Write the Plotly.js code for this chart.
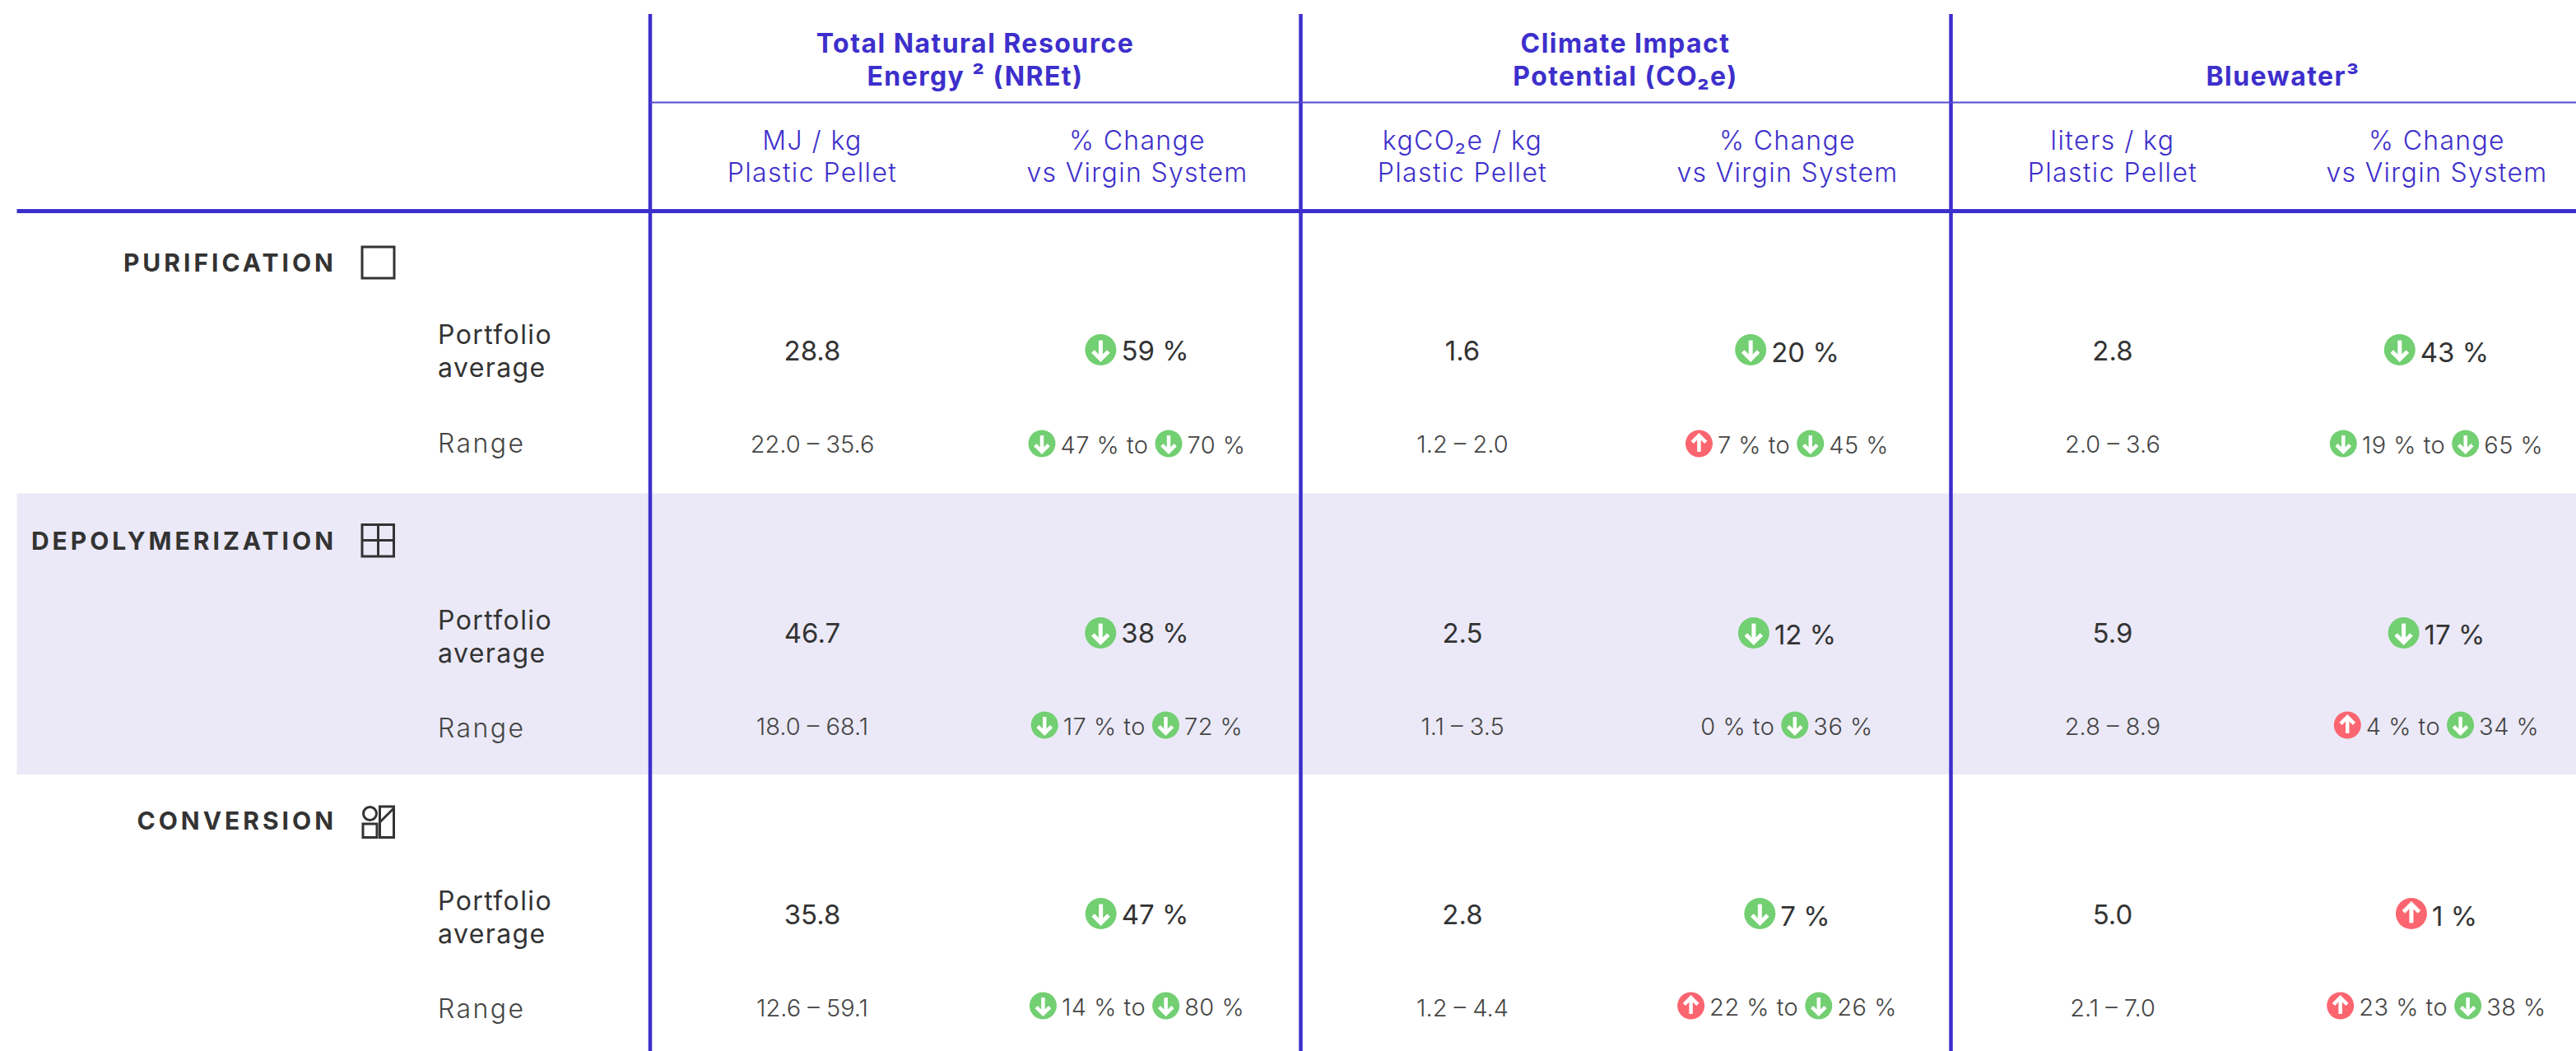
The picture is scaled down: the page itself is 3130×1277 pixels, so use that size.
<!DOCTYPE html>
<html><head><meta charset="utf-8">
<script src="https://cdn.plot.ly/plotly-3.0.1.min.js"></script>
<style>html,body{margin:0;padding:0;background:#fff;overflow:hidden}</style>
</head><body><div id="chart" style="width:3130px;height:1277px"></div>
<script>
// ---------- table content ----------
const groups = ["PURIFICATION", "DEPOLYMERIZATION", "CONVERSION"];
const rowAverageLabel = ["Portfolio", "average"];
const rowRangeLabel = "Range";
const metricTitles = [["Total Natural Resource", "Energy ² (NREt)"], ["Climate Impact", "Potential (CO₂e)"], ["Bluewater³"]];
const unitLabels = [["MJ / kg", "Plastic Pellet"], ["kgCO₂e / kg", "Plastic Pellet"], ["liters / kg", "Plastic Pellet"]];
const changeLabel = ["% Change", "vs Virgin System"];

const energyAvg = ["28.8", "46.7", "35.8"];
const energyRange = ["22.0 – 35.6", "18.0 – 68.1", "12.6 – 59.1"];
const energyChange = [-59, -38, -47];
const energyLow = [-47, -17, -14];
const energyHigh = [-70, -72, -80];

const climateAvg = ["1.6", "2.5", "2.8"];
const climateRange = ["1.2 – 2.0", "1.1 – 3.5", "1.2 – 4.4"];
const climateChange = [-20, -12, -7];
const climateLow = [7, 0, 22];
const climateHigh = [-45, -36, -26];

const waterAvg = ["2.8", "5.9", "5.0"];
const waterRange = ["2.0 – 3.6", "2.8 – 8.9", "2.1 – 7.0"];
const waterChange = [-43, -17, 1];
const waterLow = [-19, 4, 23];
const waterHigh = [-65, -34, -38];

// ---------- layout constants ----------
const W = 3130, H = 1277;
const FONT = "Inter, 'Noto Sans', sans-serif";
const BLUE = "#3d2fcb", DARK = "#333333", GREY = "#454545", GREEN = "#72cf72", RED = "#fb6570";
const dividers = [790, 1580.5, 2370.5];
const valueX = [987, 1777, 2567], changeX = [1382, 2172, 2961], titleX = [1185, 1975, 2774];
const groupY = [319.5, 657.5, 998];
const avgLabelY = [[407.5, 447.5], [754, 794], [1095, 1135]];
const rangeLabelY = [539, 885, 1226];
const avgY = [428, 771, 1113], rangeY = [541, 884, 1226];
const avgIconY = [425, 769, 1110], rangeIconY = [539, 881, 1222];
const TY = 2.5; // optical offset of text against the row centre

const ctx = document.createElement("canvas").getContext("2d");
function measure(t, size, weight, ls) {
  ctx.font = weight + " " + size + "px Inter"; ctx.letterSpacing = (ls || 0) + "px"; return ctx.measureText(t).width;
}

const traces = [], shapes = [], spacing = [];
function textTrace(xs, ys, ts, size, weight, color, pos, ls) {
  traces.push({ type: "scatter", mode: "text", x: xs, y: ys.map(v => v + TY), text: ts, textposition: pos || "middle center",
    textfont: { family: FONT, size: size, weight: weight, color: color }, hoverinfo: "skip", cliponaxis: false });
  spacing.push(ls || 0);
}
const badges = { x: [], y: [], c: [], s: [] };
const arrows = {};
function addBadge(cx, cy, val, d) {
  badges.x.push(cx); badges.y.push(cy); badges.s.push(d); badges.c.push(val > 0 ? RED : GREEN);
  const a = arrows[d] || (arrows[d] = { x: [], y: [] });
  const dir = val > 0 ? -1 : 1, L = d * 0.3, hw = d * 0.25, hh = d * 0.25;
  a.x.push(cx, cx, null, cx - hw, cx, cx + hw, null);
  a.y.push(cy - dir * L, cy + dir * L, null, cy + dir * (L - hh), cy + dir * L, cy + dir * (L - hh), null);
}
const avgT = { x: [], y: [], t: [] }, rngT = { x: [], y: [], t: [] };
const RLS = 0.5;
function avgCell(cx, row, col, v) {
  const t = Math.abs(v) + " %", d = 38, gap = 7, size = 33;
  const tw = measure(t, size, 400, 0), total = d + gap + tw, x0 = cx - total / 2;
  addBadge(x0 + d / 2, avgIconY[row], v, d);
  avgT.x.push(x0 + d + gap - 1); avgT.y.push(avgY[row] + (col ? 2 : 0) - 1); avgT.t.push(t);
}
function rangeCell(cx, row, lo, hi) {
  const d = 33, gap = 7, size = 29;
  const t1 = Math.abs(lo) + " % to", t2 = Math.abs(hi) + " %";
  const w1 = measure(t1, size, 300, RLS), w2 = measure(t2, size, 300, RLS);
  const ld = lo === 0 ? 0 : d + gap;
  const total = ld + w1 + gap + d + gap + w2;
  let x = cx - total / 2;
  const yT = rangeIconY[row] + 2;
  if (lo !== 0) { addBadge(x + d / 2, rangeIconY[row], lo, d); x += ld; }
  rngT.x.push(x - 1); rngT.y.push(yT); rngT.t.push(t1); x += w1 + gap;
  addBadge(x + d / 2, rangeIconY[row], hi, d); x += d + gap;
  rngT.x.push(x - 1); rngT.y.push(yT); rngT.t.push(t2);
}
const changes = [energyChange, climateChange, waterChange];
const lows = [energyLow, climateLow, waterLow];
const highs = [energyHigh, climateHigh, waterHigh];
const avgs = [energyAvg, climateAvg, waterAvg];
const ranges = [energyRange, climateRange, waterRange];

// ---------- rules and band ----------
shapes.push({ type: "rect", layer: "below", x0: 20.5, x1: W, y0: 599.5, y1: 941, fillcolor: "#ebe9f7", line: { width: 0 } });
dividers.forEach(x => shapes.push({ type: "line", x0: x, x1: x, y0: 17, y1: H, line: { color: BLUE, width: 4.5 } }));
shapes.push({ type: "line", x0: dividers[0], x1: W, y0: 124.5, y1: 124.5, line: { color: "#5548d3", width: 2 } });
shapes.push({ type: "line", x0: 20.5, x1: W, y0: 256.5, y1: 256.5, line: { color: BLUE, width: 5 } });

// group icons
const ic = { color: DARK, width: 3 };
function rect(x0, y0, x1, y1) { shapes.push({ type: "rect", x0, y0, x1, y1, line: ic, fillcolor: "rgba(0,0,0,0)" }); }
function seg(x0, y0, x1, y1) { shapes.push({ type: "line", x0, y0, x1, y1, line: ic }); }
rect(440, 300, 479, 338);
rect(440, 637.5, 478.5, 676); seg(459.5, 637.5, 459.5, 676); seg(440, 656.5, 478.5, 656.5);
rect(441, 1001, 458, 1017.5); shapes.push({ type: "circle", x0: 441.5, x1: 457.5, y0: 980.5, y1: 996.5, line: ic, fillcolor: "rgba(0,0,0,0)" });
rect(461.5, 980, 478.5, 1017.5); seg(461.5, 999, 478.5, 982);

// ---------- text ----------
const titleXs = metricTitles.flatMap((m, i) => m.map(() => titleX[i]));
const titleYs = metricTitles.flatMap(m => m.length === 2 ? [53.5, 93] : [93]);
textTrace(titleXs, titleYs, metricTitles.flat(), 32, 700, BLUE, null, 1.45);
textTrace(valueX.flatMap(x => [x, x]), valueX.flatMap(() => [171, 210.5]), unitLabels.flat(), 32, 300, BLUE, null, 1.4);
textTrace(changeX.flatMap(x => [x, x]), changeX.flatMap(() => [171, 210.5]), changeX.flatMap(() => changeLabel), 32, 300, BLUE, null, 1.3);
textTrace(groups.map(() => 409), groupY, groups, 30, 700, DARK, "middle left", 4.0);
textTrace(avgLabelY.flatMap(() => [532, 532]), avgLabelY.flat(), avgLabelY.flatMap(() => rowAverageLabel), 32, 400, DARK, "middle right", 1.4);
textTrace(rangeLabelY.map(() => 532), rangeLabelY, rangeLabelY.map(() => rowRangeLabel), 32, 300, GREY, "middle right", 2.4);
valueX.forEach((x, c) => {
  textTrace(avgY.map(() => x), avgY.map(v => v - 1), avgs[c], 33, 400, DARK);
  textTrace(rangeY.map(() => x), rangeY.map(v => v - 1), ranges[c], 29, 300, GREY);
  groups.forEach((g, r) => { avgCell(changeX[c], r, c, changes[c][r]); rangeCell(changeX[c], r, lows[c][r], highs[c][r]); });
});
textTrace(avgT.x, avgT.y, avgT.t, 33, 400, DARK, "middle right");
textTrace(rngT.x, rngT.y, rngT.t, 29, 300, GREY, "middle right", RLS);

// ---------- badges ----------
traces.push({ type: "scatter", mode: "markers", x: badges.x, y: badges.y, hoverinfo: "skip", cliponaxis: false,
  marker: { symbol: "circle", size: badges.s, color: badges.c, opacity: 1, line: { width: 0 } } });
Object.keys(arrows).forEach(k => traces.push({ type: "scatter", mode: "lines", x: arrows[k].x, y: arrows[k].y, hoverinfo: "skip",
  line: { color: "#ffffff", width: +k > 35 ? 5 : 4.5 }, connectgaps: false }));

Plotly.newPlot("chart", traces, {
  width: W, height: H, showlegend: false, hovermode: false,
  paper_bgcolor: "#ffffff", plot_bgcolor: "rgba(0,0,0,0)",
  margin: { l: 0, r: 0, t: 0, b: 0, pad: 0 },
  xaxis: { range: [0, W], visible: false, fixedrange: true },
  yaxis: { range: [H, 0], visible: false, fixedrange: true },
  shapes: shapes
}, { displayModeBar: false, staticPlot: true }).then(() => {
  document.querySelectorAll("#chart .scatterlayer .trace").forEach((g, i) => {
    if (spacing[i]) g.querySelectorAll("text").forEach(t => { t.style.letterSpacing = spacing[i] + "px"; });
  });
});
</script></body></html>
